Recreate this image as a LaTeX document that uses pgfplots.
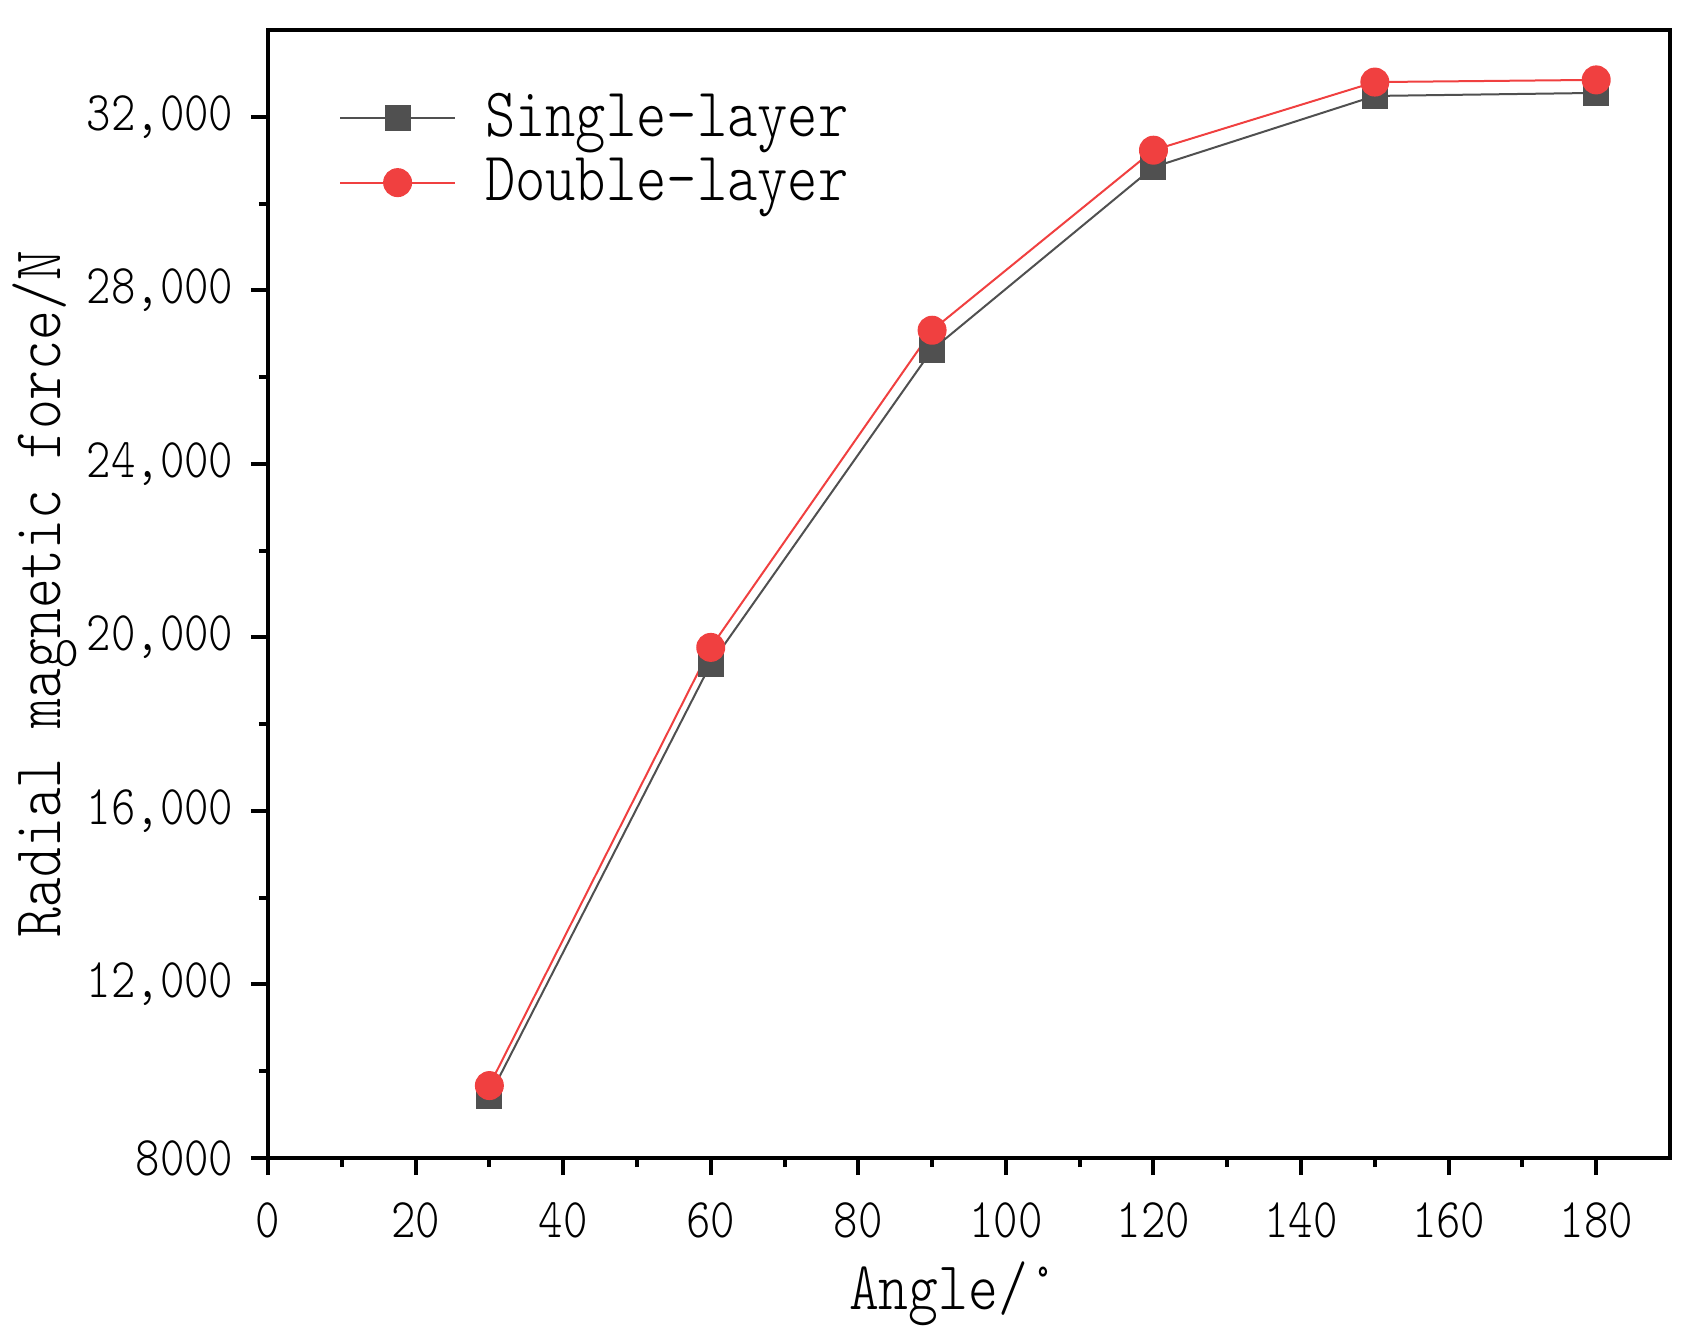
\documentclass[border=0pt]{standalone}
\usepackage{pgfplots}
\pgfplotsset{compat=1.18}
\usepackage{fontspec}
\newfontfamily\simfont{Latin Modern Mono Light}[FakeStretch=0.83]
\definecolor{sgray}{RGB}{80,80,80}
\definecolor{dred}{RGB}{240,64,64}
\begin{document}
\begin{tikzpicture}
\begin{axis}[name=ax, scale only axis, width=280.4pt, height=225.6pt,
  xmin=0, xmax=190, ymin=8000, ymax=34000,
  xtick={0,20,...,180}, minor x tick num=1,
  ytick={8000,12000,16000,20000,24000,28000,32000},
  yticklabels={8000,{12,000},{16,000},{20,000},{24,000},{28,000},{32,000}},
  minor y tick num=1,
  tick pos=left, tick align=outside,
  major tick length=3.4pt, minor tick length=1.8pt,
  axis line style={line width=0.8pt},
  tick style={black, line width=0.8pt},
  /pgf/number format/assume math mode=true,
  /pgf/number format/1000 sep={},
  ticklabel style={font={\simfont\fontsize{11.2}{13}\selectfont}},
  xticklabel style={yshift=-2pt},
  xlabel={Angle/°}, ylabel={Radial magnetic force/N},
  label style={font={\simfont\fontsize{13.7}{16}\selectfont}},
  xlabel style={at={(axis description cs:0.489,-0.1206)}, anchor=center},
  ylabel style={at={(axis description cs:-0.159,0.5)}, anchor=center},
  legend style={draw=none, fill=none, at={(axis description cs:0.05,0.954)}, anchor=north west,
    font={\simfont\fontsize{13.9}{16}\selectfont}, inner sep=0pt, row sep=-1.2pt, column sep=3.8pt},
  legend cell align=left,
  legend image code/.code={\draw[mark repeat=2,mark phase=2,#1] plot coordinates {(0pt,0pt) (11.5pt,0pt) (23pt,0pt)};},
]
\addplot[sgray, line width=0.4pt, mark=square*, mark size=2.4pt, mark options={fill=sgray, draw=none}]
  coordinates {(30,9420) (60,19390) (90,26630) (120,30840) (150,32480) (180,32550)};
\addlegendentry{Single-layer}
\addplot[dred, line width=0.4pt, mark=*, mark size=2.7pt, mark options={fill=dred, draw=none}]
  coordinates {(30,9670) (60,19770) (90,27080) (120,31230) (150,32800) (180,32850)};
\addlegendentry{Double-layer}
\end{axis}
\pgfresetboundingbox
\useasboundingbox ([xshift=-53.6pt,yshift=-37pt]ax.south west) rectangle ([xshift=5pt,yshift=6pt]ax.north east);
\end{tikzpicture}
\end{document}
